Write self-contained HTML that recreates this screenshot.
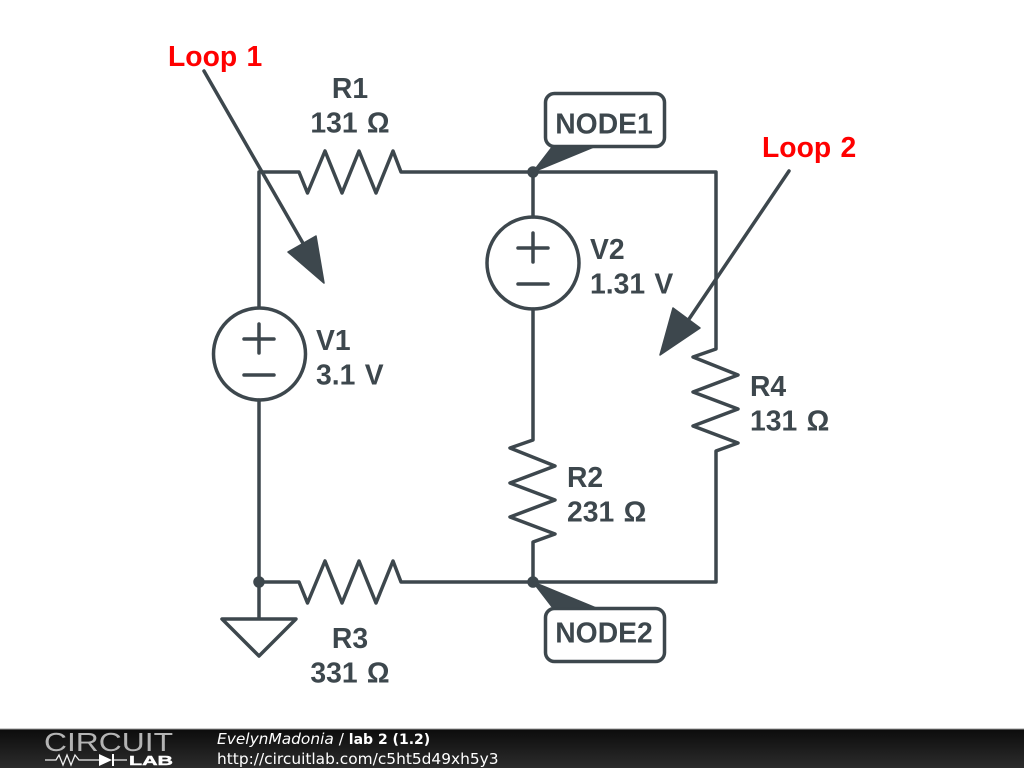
<!DOCTYPE html>
<html><head><meta charset="utf-8"><style>
html,body{margin:0;padding:0;background:#fff}
svg{display:block}
.t{font-family:"Liberation Sans",sans-serif;font-weight:bold;font-size:28.3px;word-spacing:1.5px;fill:#3d474d}
.r{font-family:"Liberation Sans",sans-serif;font-weight:bold;font-size:28.3px;word-spacing:1.5px;fill:#ff0000}
.f{font-family:"DejaVu Sans",sans-serif;font-size:15.4px;fill:#fff}
</style></head><body>
<svg width="1024" height="768" viewBox="0 0 1024 768" xmlns="http://www.w3.org/2000/svg">
<defs><linearGradient id="g" x1="0" y1="0" x2="0" y2="1"><stop offset="0" stop-color="#0c0c0c"/><stop offset="1" stop-color="#2c2c2c"/></linearGradient></defs>
<rect width="1024" height="768" fill="#fff"/>
<g fill="none" stroke="#3d474d" stroke-width="3.5" stroke-linejoin="round" stroke-linecap="round">
<path d="M259 307V172H299L307.5 193L325 151L342 193L359 151L376 193L393 151L401 172H716V349L693 357L738 375L693 392L738 409L693 426L738 443L716 451V582H533"/>
<path d="M259 400V582"/>
<path d="M259 582H299L307.5 603L325 561L342 603L359 561L376 603L393 561L401 582H533"/>
<path d="M533 172V217M533 309V440L510 448L555 466L510 483L555 500L510 517L555 534L533 542V582"/>
<circle cx="259.5" cy="354" r="46"/>
<circle cx="533" cy="263" r="46"/>
<path d="M244 339H274M259 324V353M244 375H274"/>
<path d="M518 248H548M533 233V262M518 284H548"/>
<path d="M259 582V619M222 619H296L259 656Z"/>
<rect x="545.5" y="93.5" width="119" height="53" rx="9"/>
<rect x="545.5" y="608.5" width="119" height="53" rx="9"/>
<path d="M204 71L304 245M789 171L685 325"/>
</g>
<g fill="#3d474d" stroke="#3d474d" stroke-width="1.5" stroke-linejoin="round">
<circle cx="533" cy="172" r="5"/>
<circle cx="533" cy="582" r="5"/>
<circle cx="259" cy="582" r="5"/>
<path d="M533 172L553 146H596Z"/>
<path d="M533 582L553 608H596Z"/>
<path d="M288 252L316 236L324 283Z"/>
<path d="M673 308L700 328L660 355Z"/>
</g>
<text class="r" x="168" y="66">Loop 1</text>
<text class="r" x="762" y="157">Loop 2</text>
<text class="t" x="350" y="98" text-anchor="middle">R1</text>
<text class="t" x="350" y="132.5" text-anchor="middle">131 Ω</text>
<text class="t" x="350" y="648" text-anchor="middle">R3</text>
<text class="t" x="350" y="682.5" text-anchor="middle">331 Ω</text>
<text class="t" x="316" y="350">V1</text>
<text class="t" x="316" y="384.5">3.1 V</text>
<text class="t" x="590" y="259">V2</text>
<text class="t" x="590" y="293.5">1.31 V</text>
<text class="t" x="567" y="487">R2</text>
<text class="t" x="567" y="521.5">231 Ω</text>
<text class="t" x="750" y="396">R4</text>
<text class="t" x="750" y="430.5">131 Ω</text>
<text class="t" x="604" y="133.5" text-anchor="middle">NODE1</text>
<text class="t" x="604" y="642.5" text-anchor="middle">NODE2</text>
<rect x="0" y="729" width="1024" height="39" fill="url(#g)"/>
<rect x="0" y="728.5" width="1024" height="1" fill="#999"/>
<text x="44" y="751" font-family="'Liberation Sans',sans-serif" font-size="26" fill="#b4b4b4" textLength="129" lengthAdjust="spacingAndGlyphs" style="font-weight:normal">CIRCUIT</text>
<path d="M45 760H56L59 755L63 765L67 755L71 765L75 755L79 760H99M114 760H127" fill="none" stroke="#eee" stroke-width="1.3"/>
<path d="M99 754L112 760L99 766Z" fill="#fff"/><rect x="112" y="754" width="2" height="12" fill="#fff"/>
<text x="129" y="765" font-family="'Liberation Sans',sans-serif" font-size="13" font-weight="bold" fill="#fff" textLength="44" lengthAdjust="spacingAndGlyphs" stroke="#fff" stroke-width=".4">LAB</text>
<text class="f" x="217" y="744"><tspan font-style="italic">EvelynMadonia</tspan> / <tspan font-weight="bold" font-size="14">lab 2 (1.2)</tspan></text>
<text class="f" x="217" y="764">http://circuitlab.com/c5ht5d49xh5y3</text>
</svg>
</body></html>
